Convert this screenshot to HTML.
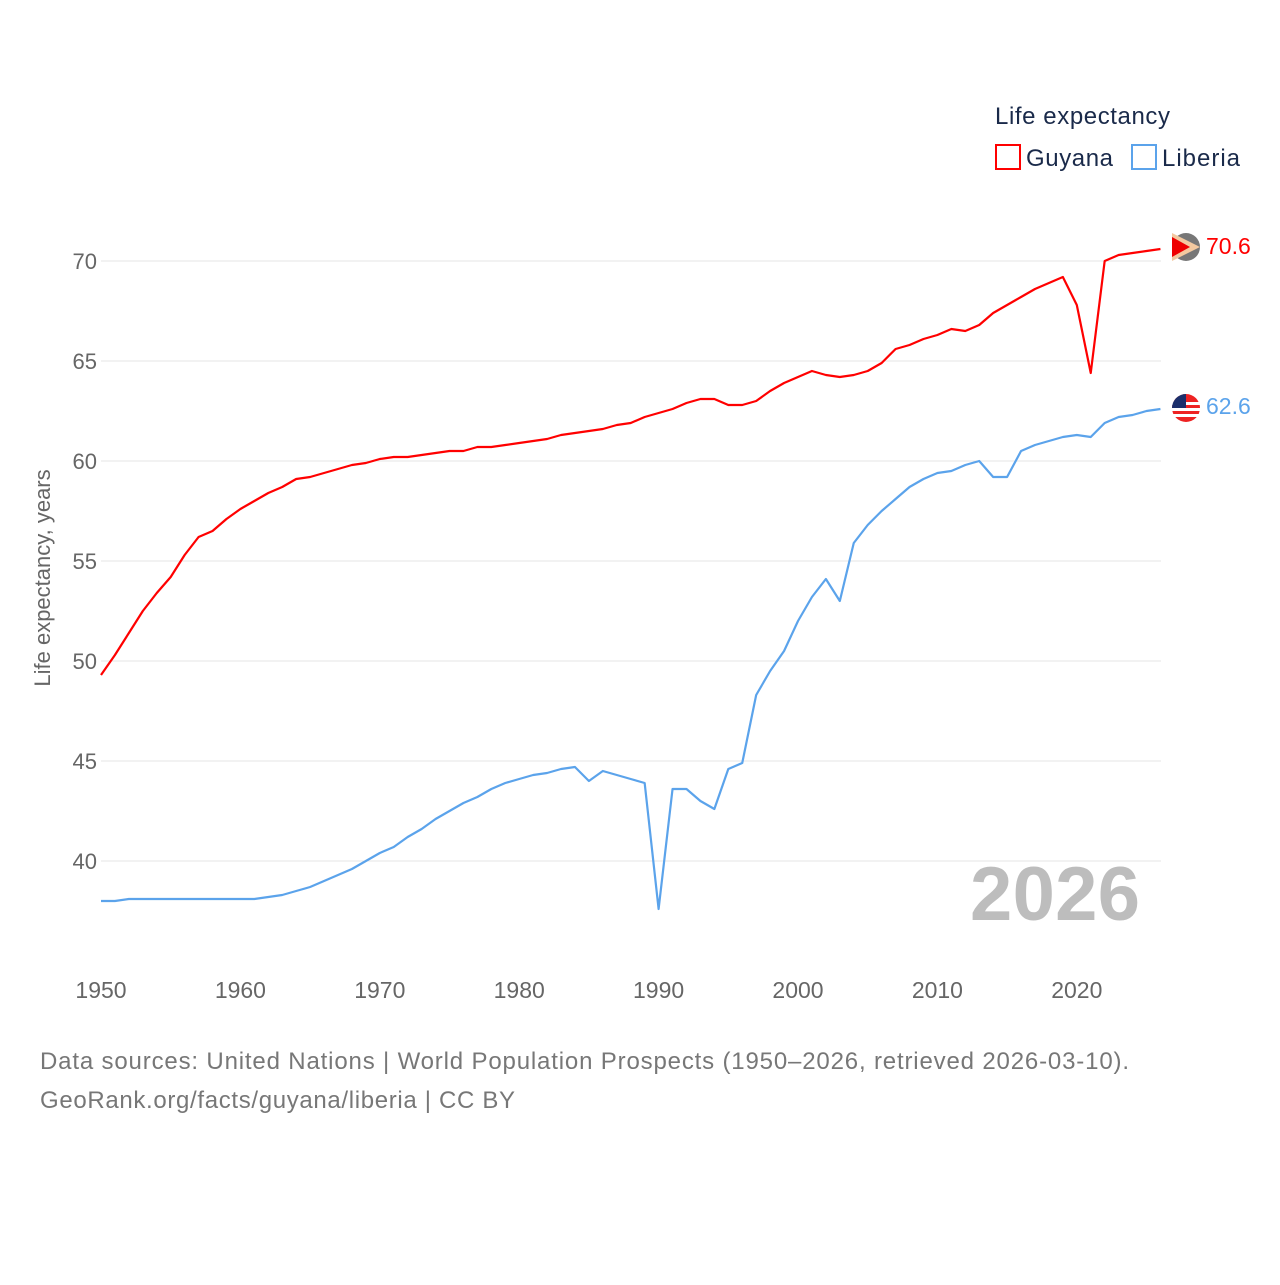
<!DOCTYPE html>
<html><head><meta charset="utf-8"><style>
body{margin:0;background:#fff;font-family:"Liberation Sans",sans-serif}
svg text{font-family:"Liberation Sans",sans-serif}
</style></head><body>
<svg id="c" width="1280" height="1280" xmlns="http://www.w3.org/2000/svg">
<g id="grid"></g>
<g id="yt"></g>
<g id="xt"></g>
<text x="50" y="578" transform="rotate(-90 50 578)" text-anchor="middle" font-size="22" fill="#666">Life expectancy, years</text>
<text x="970" y="920" font-size="76" font-weight="bold" fill="#bdbdbd" textLength="170">2026</text>
<g id="lines"></g>
<g>
<text x="995" y="124" font-size="24" fill="#1a2a4a" textLength="175">Life expectancy</text>
<g><rect x="996" y="145" width="24" height="24" fill="none" stroke="#f00" stroke-width="2"/><text x="1026" y="166" font-size="24" fill="#1a2a4a" textLength="87">Guyana</text></g>
<g><rect x="1132" y="145" width="24" height="24" fill="none" stroke="#5ba3eb" stroke-width="2"/><text x="1162" y="166" font-size="24" fill="#1a2a4a" textLength="78">Liberia</text></g>
</g>
<g><circle cx="1186" cy="247" r="14" fill="#777"/><path d="M1172 233 L1200 247 L1172 261Z" fill="#f3c9a0"/><path d="M1172 237 L1190 247 L1172 257Z" fill="#e00"/></g>
<g><circle cx="1186" cy="408" r="14" fill="#e22"/><rect x="1172" y="402" width="28" height="3" fill="#fff"/><rect x="1172" y="408" width="28" height="3" fill="#fff"/><rect x="1172" y="414" width="28" height="3" fill="#fff"/><path d="M1172 408 A14 14 0 0 1 1186 394 L1186 408Z" fill="#1b2f6b"/></g>
<text x="1206" y="254" font-size="23" fill="#f00">70.6</text>
<text x="1206" y="414" font-size="23" fill="#5ba3eb">62.6</text>
<text x="40" y="1069" font-size="24" fill="#777" textLength="1089">Data sources: United Nations | World Population Prospects (1950–2026, retrieved 2026-03-10).</text>
<text x="40" y="1108" font-size="24" fill="#777" textLength="475">GeoRank.org/facts/guyana/liberia | CC BY</text>
</svg>
<script>
const years=[];for(let y=1950;y<=2026;y++)years.push(y);
const guyana=[49.3,50.3,51.4,52.5,53.4,54.2,55.3,56.2,56.5,57.1,57.6,58.0,58.4,58.7,59.1,59.2,59.4,59.6,59.8,59.9,60.1,60.2,60.2,60.3,60.4,60.5,60.5,60.7,60.7,60.8,60.9,61.0,61.1,61.3,61.4,61.5,61.6,61.8,61.9,62.2,62.4,62.6,62.9,63.1,63.1,62.8,62.8,63.0,63.5,63.9,64.2,64.5,64.3,64.2,64.3,64.5,64.9,65.6,65.8,66.1,66.3,66.6,66.5,66.8,67.4,67.8,68.2,68.6,68.9,69.2,67.8,64.4,70.0,70.3,70.4,70.5,70.6];
const liberia=[38.0,38.0,38.1,38.1,38.1,38.1,38.1,38.1,38.1,38.1,38.1,38.1,38.2,38.3,38.5,38.7,39.0,39.3,39.6,40.0,40.4,40.7,41.2,41.6,42.1,42.5,42.9,43.2,43.6,43.9,44.1,44.3,44.4,44.6,44.7,44.0,44.5,44.3,44.1,43.9,37.6,43.6,43.6,43.0,42.6,44.6,44.9,48.3,49.5,50.5,52.0,53.2,54.1,53.0,55.9,56.8,57.5,58.1,58.7,59.1,59.4,59.5,59.8,60.0,59.2,59.2,60.5,60.8,61.0,61.2,61.3,61.2,61.9,62.2,62.3,62.5,62.6];
const yTicks=[40,45,50,55,60,65,70];
const xTicks=[1950,1960,1970,1980,1990,2000,2010,2020];
const X=y=>101+(y-1950)*13.94, Y=v=>261+(70-v)*20;
const NS="http://www.w3.org/2000/svg";
function mk(t,a,p){const e=document.createElementNS(NS,t);for(const k in a)e.setAttribute(k,a[k]);p.appendChild(e);return e;}
const grid=document.getElementById('grid'),yt=document.getElementById('yt'),xt=document.getElementById('xt'),lines=document.getElementById('lines');
yTicks.forEach(v=>{
 const l=mk('line',{x1:101,x2:1161,y1:Y(v),y2:Y(v),stroke:'#e6e6e6','stroke-width':1},grid);
 
 
 const t=mk('text',{x:97,y:Y(v)+8,'text-anchor':'end','font-size':22,fill:'#666'},yt);t.textContent=v;
 
 
});
xTicks.forEach(v=>{
 const t=mk('text',{x:X(v),y:998,'text-anchor':'middle','font-size':23,fill:'#666'},xt);t.textContent=v;
 
 
});
[[guyana,'#f00','guyana-line'],[liberia,'#5ba3eb','liberia-line']].forEach(([d,c,n])=>{
 const p=mk('polyline',{points:d.map((v,i)=>X(years[i])+','+Y(v)).join(' '),fill:'none',stroke:c,'stroke-width':2.2,'stroke-linejoin':'round'},lines);
 
 
});
</script>
</body></html>
